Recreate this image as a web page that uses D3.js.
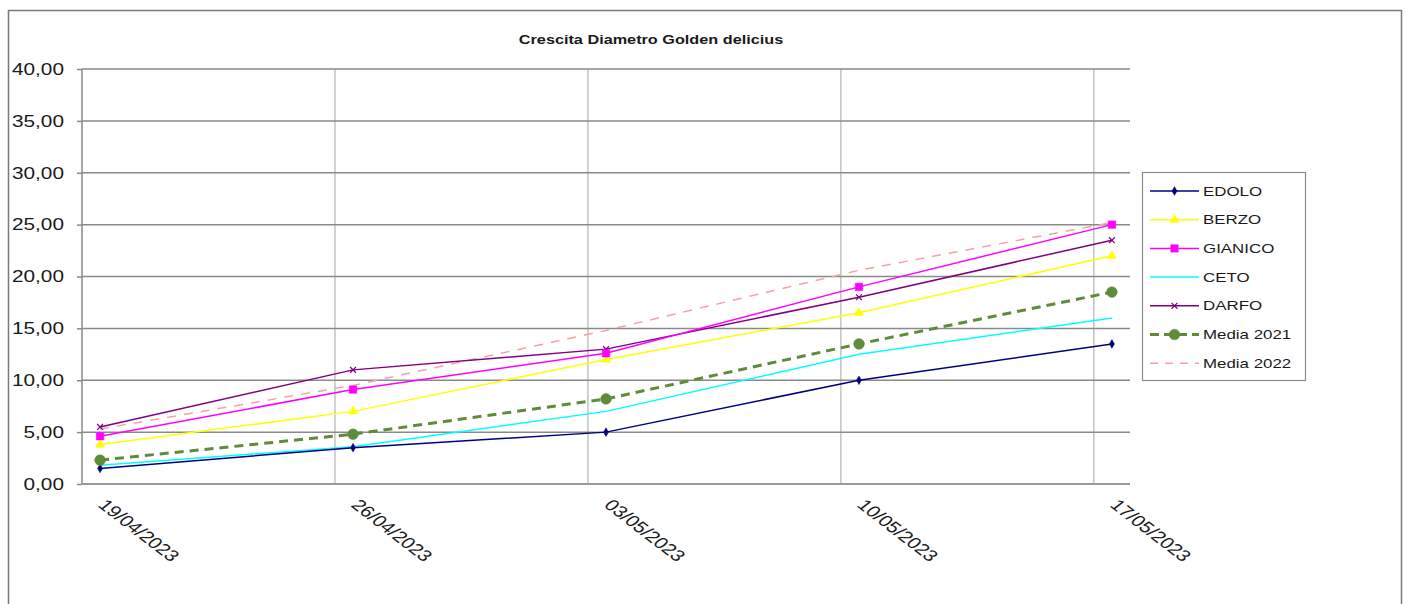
<!DOCTYPE html>
<html>
<head>
<meta charset="utf-8">
<script src="https://cdn.jsdelivr.net/npm/d3@7/dist/d3.min.js"></script>
<style>
  html, body { margin: 0; padding: 0; background: #fff; }
  svg { display: block; }
  text { font-family: "Liberation Sans", Arial, sans-serif; fill: #1a1a1a; }
</style>
</head>
<body>
<svg id="chart" width="1408" height="604"></svg>
<script>
// Sampling dates (one per week)
const dates = ["2023-04-19", "2023-04-26", "2023-05-03", "2023-05-10", "2023-05-17"];
const dateLabels = ["19/04/2023", "26/04/2023", "03/05/2023", "10/05/2023", "17/05/2023"];

// Fruit diameter (mm) per site
const edolo    = [1.5, 3.5, 5.0, 10.0, 13.5];
const berzo    = [3.8, 7.0, 12.0, 16.5, 22.0];
const gianico  = [4.6, 9.1, 12.6, 19.0, 25.0];
const ceto     = [1.8, 3.6, 7.0, 12.5, 16.0];
const darfo    = [5.5, 11.0, 13.0, 18.0, 23.5];
const media2021 = [2.3, 4.8, 8.2, 13.5, 18.5];
const media2022 = [5.3, 9.5, 14.8, 20.6, 25.2];

const yTicks = [0, 5, 10, 15, 20, 25, 30, 35, 40];
const yTickLabels = ["0,00", "5,00", "10,00", "15,00", "20,00", "25,00", "30,00", "35,00", "40,00"];

const chartTitle = "Crescita Diametro Golden delicius";

const timesSym = d3.symbolTimes || d3.symbolCross;
const series = [
  { name: "EDOLO",      values: edolo,     color: "#000080", width: 1.5, dash: null,  symbol: d3.symbolDiamond,  size: 22, fill: true },
  { name: "BERZO",      values: berzo,     color: "#ffff00", width: 1.5, dash: null,  symbol: d3.symbolTriangle, size: 36, fill: true },
  { name: "GIANICO",    values: gianico,   color: "#ff00ff", width: 1.5, dash: null,  symbol: d3.symbolSquare,   size: 56, fill: true },
  { name: "CETO",       values: ceto,      color: "#00ffff", width: 1.5, dash: null,  symbol: null },
  { name: "DARFO",      values: darfo,     color: "#800080", width: 1.5, dash: null,  symbol: timesSym,          size: 24, fill: false },
  { name: "Media 2021", values: media2021, color: "#5e8c3a", width: 3,   dash: "9,6", symbol: d3.symbolCircle,   size: 90, fill: true },
  { name: "Media 2022", values: media2022, color: "#f4a3a0", width: 1.5, dash: "9,8", symbol: null }
];

const SX = 1.3; // horizontal text stretch

const svg = d3.select("#chart");
const parse = d3.timeParse("%Y-%m-%d");
const dayStart = parse(dates[0]);
const dayEnd = d3.timeDay.offset(parse(dates[dates.length - 1]), 1);

const plot = { left: 82, right: 1130, top: 69, bottom: 484 };

const x = d3.scaleTime().domain([dayStart, dayEnd]).range([plot.left, plot.right]);
const y = d3.scaleLinear().domain([0, 40]).range([plot.bottom, plot.top]);
const xMid = d => x(d3.timeHour.offset(parse(d), 12));

// outer frame
svg.append("rect")
  .attr("x", 8.5).attr("y", 10.5).attr("width", 1393).attr("height", 620)
  .attr("fill", "none").attr("stroke", "#7a7a7a").attr("stroke-width", 1.5);

// title
svg.append("text")
  .attr("transform", `translate(651,44) scale(${SX},1)`)
  .attr("text-anchor", "middle")
  .attr("font-size", 12.5).attr("font-weight", "bold")
  .text(chartTitle);

// vertical gridlines at each week
const g = svg.append("g");
g.selectAll("line.vgrid").data(dates.slice(1)).join("line")
  .attr("class", "vgrid")
  .attr("x1", d => x(parse(d))).attr("x2", d => x(parse(d)))
  .attr("y1", plot.top).attr("y2", plot.bottom)
  .attr("stroke", "#b4b4b4").attr("stroke-width", 1.2);

// horizontal gridlines + y axis ticks
const yAxis = d3.axisLeft(y).tickValues(yTicks).tickSize(5).tickFormat("");
const yg = svg.append("g").attr("transform", `translate(${plot.left},0)`).call(yAxis);
yg.select(".domain").remove();
yg.selectAll(".tick line").attr("stroke", "#8a8a8a").attr("stroke-width", 1.5);

g.selectAll("line.hgrid").data(yTicks).join("line")
  .attr("class", "hgrid")
  .attr("x1", plot.left).attr("x2", plot.right)
  .attr("y1", d => y(d)).attr("y2", d => y(d))
  .attr("stroke", d => d === 0 ? "#9a9a9a" : "#8a8a8a")
  .attr("stroke-width", d => d === 0 ? 2 : 1.5);

// y axis line
svg.append("line")
  .attr("x1", plot.left).attr("x2", plot.left)
  .attr("y1", plot.top).attr("y2", plot.bottom)
  .attr("stroke", "#8a8a8a").attr("stroke-width", 1.5);

// y tick labels
svg.selectAll("text.ylab").data(yTicks).join("text")
  .attr("class", "ylab")
  .attr("transform", d => `translate(64,${y(d)}) scale(${SX},1)`)
  .attr("text-anchor", "end").attr("dy", "0.36em")
  .attr("font-size", 16)
  .text((d, i) => yTickLabels[i]);

// x tick labels (rotated)
svg.selectAll("text.xlab").data(dates).join("text")
  .attr("class", "xlab")
  .attr("transform", d => `translate(${xMid(d) - 3},506) scale(${SX},1) rotate(45)`)
  .attr("font-size", 16)
  .text((d, i) => dateLabels[i]);

// series lines
const line = d3.line().x((v, i) => xMid(dates[i])).y(v => y(v));
const drawOrder = [6, 3, 1, 0, 5, 4, 2];
const sg = svg.append("g");
drawOrder.forEach(k => {
  const s = series[k];
  sg.append("path")
    .attr("d", line(s.values))
    .attr("fill", "none")
    .attr("stroke", s.color)
    .attr("stroke-width", s.width)
    .attr("stroke-dasharray", s.dash);
});
drawOrder.forEach(k => {
  const s = series[k];
  if (!s.symbol) return;
  const sym = d3.symbol().type(s.symbol).size(s.size);
  sg.selectAll(null).data(s.values).join("path")
    .attr("transform", (v, i) => `translate(${xMid(dates[i])},${y(v)})`)
    .attr("d", sym())
    .attr("fill", s.fill ? s.color : "none")
    .attr("stroke", s.color)
    .attr("stroke-width", s.fill ? 0.5 : 1.2);
});

// legend
const lg = svg.append("g");
lg.append("rect")
  .attr("x", 1142.5).attr("y", 172.5).attr("width", 163).attr("height", 208)
  .attr("fill", "#fff").attr("stroke", "#8a8a8a").attr("stroke-width", 1.2);
const legendY = i => 191 + i * 28.7;
series.forEach((s, i) => {
  const ly = legendY(i);
  lg.append("line")
    .attr("x1", 1150).attr("x2", 1199).attr("y1", ly).attr("y2", ly)
    .attr("stroke", s.color).attr("stroke-width", s.width)
    .attr("stroke-dasharray", s.dash ? (s.width > 2 ? "9,5" : "8,7") : null);
  if (s.symbol) {
    lg.append("path")
      .attr("transform", `translate(1174.5,${ly})`)
      .attr("d", d3.symbol().type(s.symbol).size(s.size)())
      .attr("fill", s.fill ? s.color : "none")
      .attr("stroke", s.color)
      .attr("stroke-width", s.fill ? 0.5 : 1.2);
  }
  lg.append("text")
    .attr("transform", `translate(1203,${ly}) scale(${SX},1)`)
    .attr("dy", "0.36em")
    .attr("font-size", 13)
    .text(s.name);
});
</script>
</body>
</html>
